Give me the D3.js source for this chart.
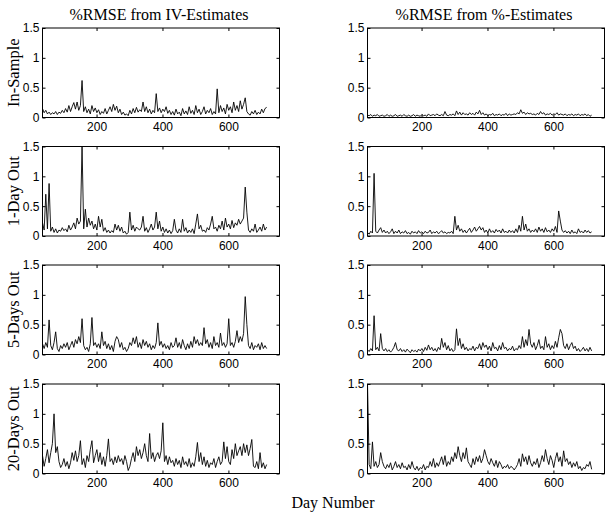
<!DOCTYPE html>
<html>
<head>
<meta charset="utf-8">
<script src="https://cdn.jsdelivr.net/npm/d3@7"></script>
<style>
  body { margin: 0; background: #fff; }
</style>
</head>
<body>
<div id="chart"></div>
<script>
// --- Data ---
const dayStart = 36, dayStep = 5;
const colTitles = ["%RMSE from IV-Estimates", "%RMSE from %-Estimates"];
const rowLabels = ["In-Sample", "1-Day Out", "5-Days Out", "20-Days Out"];
const xTicks = [200, 400, 600];
const yTicks = [0, 0.5, 1, 1.5];

const inSampleIV = [
  .15,.08,.12,.06,.09,.05,.08,.06,.10,.05,
  .09,.07,.12,.08,.15,.09,.20,.10,.18,.25,
  .14,.26,.12,.20,.62,.10,.18,.08,.14,.06,
  .20,.10,.16,.08,.13,.05,.10,.07,.15,.06,
  .12,.18,.10,.22,.12,.19,.08,.14,.05,.09,
  .04,.06,.03,.12,.06,.15,.08,.17,.09,.13,
  .10,.26,.10,.18,.08,.14,.06,.12,.08,.40,
  .10,.16,.08,.14,.10,.18,.07,.12,.05,.10,
  .04,.14,.06,.09,.03,.15,.06,.11,.05,.18,
  .07,.12,.05,.20,.08,.14,.05,.10,.18,.06,
  .12,.08,.15,.05,.10,.06,.48,.08,.20,.10,
  .16,.06,.22,.12,.18,.08,.26,.12,.20,.10,
  .28,.14,.22,.33,.10,.06,.04,.10,.06,.12,
  .05,.09,.06,.14,.08,.15,.17
];
const inSamplePct = [
  .04,.03,.05,.02,.04,.03,.05,.02,.03,.04,
  .02,.03,.05,.02,.04,.02,.03,.05,.02,.03,
  .04,.02,.05,.03,.02,.04,.02,.03,.05,.02,
  .04,.03,.02,.05,.03,.04,.02,.06,.03,.04,
  .05,.03,.06,.04,.03,.05,.03,.10,.04,.03,
  .05,.04,.06,.03,.11,.05,.09,.04,.08,.05,
  .06,.04,.08,.05,.07,.04,.09,.06,.12,.05,
  .08,.04,.06,.03,.05,.04,.07,.03,.05,.04,
  .06,.03,.05,.04,.07,.03,.06,.04,.05,.06,
  .05,.08,.06,.13,.07,.09,.05,.08,.06,.07,
  .05,.06,.04,.07,.05,.10,.06,.08,.04,.06,
  .05,.07,.04,.06,.05,.08,.04,.06,.05,.04,
  .06,.03,.05,.04,.06,.03,.05,.04,.06,.03,
  .05,.04,.06,.03,.05,.02,.04
];
const oneDayIV = [
  .22,.10,.70,.12,.88,.08,.15,.06,.12,.05,
  .10,.08,.14,.09,.12,.07,.18,.10,.15,.22,
  .12,.30,.20,.25,1.5,.12,.45,.15,.30,.18,
  .25,.12,.20,.10,.33,.15,.28,.08,.14,.06,
  .10,.05,.09,.06,.20,.10,.18,.08,.15,.05,
  .08,.03,.06,.40,.10,.18,.08,.15,.12,.10,
  .15,.33,.08,.14,.06,.12,.20,.10,.15,.40,
  .12,.25,.08,.15,.06,.12,.05,.10,.04,.09,
  .28,.10,.05,.12,.06,.28,.08,.14,.05,.10,
  .06,.12,.04,.20,.37,.12,.18,.08,.10,.06,
  .14,.10,.20,.33,.12,.15,.08,.18,.12,.25,
  .10,.30,.15,.20,.12,.26,.14,.22,.18,.28,
  .20,.25,.30,.82,.40,.10,.06,.12,.08,.20,
  .06,.10,.15,.08,.20,.10,.15
];
const oneDayPct = [
  .06,.03,.08,.05,1.05,.08,.05,.10,.14,.06,
  .10,.05,.08,.04,.07,.12,.04,.08,.05,.10,
  .04,.07,.05,.09,.04,.06,.03,.08,.05,.07,
  .04,.09,.05,.07,.04,.08,.05,.06,.10,.04,
  .07,.05,.08,.04,.06,.09,.05,.07,.04,.06,
  .05,.08,.04,.33,.10,.18,.08,.12,.06,.10,
  .05,.09,.13,.06,.10,.15,.08,.12,.16,.10,
  .14,.06,.10,.05,.12,.06,.09,.05,.11,.07,
  .10,.05,.12,.06,.08,.05,.10,.06,.09,.05,
  .12,.06,.18,.08,.33,.10,.20,.08,.12,.06,
  .10,.07,.12,.06,.15,.08,.12,.06,.14,.07,
  .10,.06,.12,.08,.16,.06,.42,.25,.10,.06,
  .09,.05,.08,.04,.10,.05,.07,.04,.12,.06,
  .08,.05,.10,.06,.09,.05,.07
];
const fiveDayIV = [
  .18,.10,.20,.12,.58,.15,.08,.20,.38,.10,
  .05,.15,.10,.18,.12,.20,.08,.15,.22,.12,
  .25,.18,.30,.20,.60,.15,.08,.12,.05,.18,
  .62,.15,.20,.12,.18,.10,.38,.15,.22,.10,
  .18,.08,.15,.05,.22,.30,.25,.12,.20,.08,
  .12,.05,.10,.20,.15,.28,.18,.30,.12,.20,
  .10,.25,.15,.22,.12,.18,.08,.15,.10,.20,
  .53,.15,.22,.12,.18,.10,.15,.08,.20,.12,
  .15,.28,.12,.20,.10,.25,.15,.08,.18,.10,
  .22,.12,.30,.18,.25,.15,.20,.15,.45,.18,
  .25,.12,.20,.10,.30,.15,.20,.12,.36,.15,
  .20,.12,.18,.60,.15,.20,.12,.22,.40,.20,
  .30,.22,.35,.97,.50,.15,.10,.20,.08,.15,
  .12,.18,.08,.20,.10,.15,.10
];
const fiveDayPct = [
  .08,.05,.10,.06,.65,.08,.12,.06,.35,.10,
  .06,.10,.05,.08,.04,.07,.12,.20,.08,.06,
  .10,.05,.08,.04,.09,.06,.03,.08,.05,.07,
  .04,.09,.06,.10,.05,.12,.07,.16,.08,.12,
  .06,.10,.05,.12,.08,.27,.12,.20,.08,.15,
  .06,.10,.05,.08,.43,.15,.27,.10,.18,.08,
  .12,.06,.10,.08,.14,.06,.12,.10,.18,.08,
  .20,.12,.16,.08,.14,.06,.20,.10,.12,.06,
  .15,.08,.20,.10,.12,.06,.10,.08,.14,.06,
  .10,.08,.15,.10,.30,.12,.25,.15,.42,.18,
  .12,.20,.08,.15,.25,.10,.14,.08,.30,.12,
  .18,.08,.15,.10,.22,.12,.28,.42,.35,.15,
  .10,.18,.08,.15,.20,.10,.14,.06,.10,.05,
  .08,.12,.06,.10,.05,.12,.06
];
const twentyDayIV = [
  .30,.12,.25,.40,.18,.35,.50,1.0,.35,.45,
  .20,.10,.15,.25,.12,.20,.08,.18,.35,.22,
  .38,.20,.30,.55,.15,.25,.10,.30,.20,.40,
  .55,.18,.30,.40,.20,.35,.15,.28,.12,.30,
  .58,.20,.25,.15,.28,.18,.30,.20,.25,.15,
  .30,.20,.05,.12,.25,.35,.20,.45,.30,.40,
  .25,.35,.50,.30,.20,.67,.25,.35,.20,.30,
  .35,.25,.38,.85,.20,.30,.15,.28,.18,.22,
  .12,.25,.15,.22,.10,.28,.15,.20,.12,.25,
  .10,.18,.12,.28,.52,.20,.35,.15,.28,.12,
  .22,.10,.18,.15,.25,.10,.20,.28,.15,.20,
  .53,.25,.45,.20,.15,.40,.25,.50,.30,.38,
  .45,.30,.50,.35,.48,.30,.42,.57,.12,.10,
  .20,.08,.35,.10,.18,.08,.15
];
const twentyDayPct = [
  1.5,.15,.08,.53,.12,.20,.10,.15,.35,.20,
  .12,.08,.15,.10,.18,.06,.12,.20,.10,.15,
  .08,.18,.10,.12,.06,.15,.08,.20,.10,.06,
  .12,.05,.10,.08,.15,.06,.12,.10,.20,.12,
  .25,.10,.18,.12,.20,.28,.15,.30,.12,.20,
  .15,.28,.20,.35,.25,.45,.30,.20,.35,.25,
  .43,.20,.15,.10,.25,.15,.28,.20,.30,.18,
  .25,.40,.30,.20,.15,.25,.18,.12,.22,.10,
  .20,.15,.08,.12,.10,.15,.08,.12,.10,.06,
  .10,.15,.25,.12,.33,.20,.28,.15,.30,.18,
  .12,.20,.15,.25,.10,.18,.30,.20,.40,.25,
  .15,.30,.22,.10,.25,.35,.20,.28,.12,.38,
  .20,.25,.15,.20,.10,.18,.12,.20,.08,.12,
  .05,.10,.08,.15,.12,.20,.07
];

const grid = [
  [inSampleIV, inSamplePct],
  [oneDayIV, oneDayPct],
  [fiveDayIV, fiveDayPct],
  [twentyDayIV, twentyDayPct]
];

// --- Layout ---
const width = 612, height = 514;
const colLeft = [42.5, 367.5];
const plotW = 237;
const rowTop = [28, 146.5, 265, 384];
const plotH = 89.5;

const svg = d3.select("#chart").append("svg")
  .attr("width", width)
  .attr("height", height);

const x = d3.scaleLinear().domain([36, 755]).range([0, plotW]);
const y = d3.scaleLinear().domain([0, 1.5]).range([plotH, 0]);

svg.append("defs").append("clipPath")
  .attr("id", "plot-clip")
  .append("rect")
  .attr("width", plotW)
  .attr("height", plotH);

const line = d3.line()
  .x((d, i) => x(dayStart + i * dayStep))
  .y(d => y(d));

const tickFont = "'Liberation Sans', Arial, sans-serif";
const serifFont = "'Liberation Serif', 'Times New Roman', serif";

grid.forEach((row, r) => {
  row.forEach((series, c) => {
    const g = svg.append("g")
      .attr("transform", `translate(${colLeft[c]},${rowTop[r]})`);

    g.append("path")
      .datum(series)
      .attr("clip-path", "url(#plot-clip)")
      .attr("fill", "none")
      .attr("stroke", "#000")
      .attr("stroke-width", 0.9)
      .attr("stroke-linejoin", "round")
      .attr("d", line);

    // inward ticks, matlab style
    const bottom = g.append("g")
      .attr("transform", `translate(0,${plotH})`)
      .call(d3.axisBottom(x).tickValues(xTicks).tickSizeInner(-3).tickSizeOuter(0).tickPadding(5));
    const top = g.append("g")
      .call(d3.axisTop(x).tickValues(xTicks).tickSizeInner(-3).tickSizeOuter(0).tickFormat(""));
    const left = g.append("g")
      .call(d3.axisLeft(y).tickValues(yTicks).tickSizeInner(-3).tickSizeOuter(0).tickPadding(3).tickFormat(d => d));
    const right = g.append("g")
      .attr("transform", `translate(${plotW},0)`)
      .call(d3.axisRight(y).tickValues(yTicks).tickSizeInner(-3).tickSizeOuter(0).tickFormat(""));

    [bottom, top, left, right].forEach(a => {
      a.select(".domain").remove();
      a.selectAll("text")
        .attr("fill", "#000")
        .style("font-family", tickFont)
        .style("font-size", "12px");
      a.selectAll("line").attr("stroke", "#000");
    });

    g.append("rect")
      .attr("width", plotW)
      .attr("height", plotH)
      .attr("fill", "none")
      .attr("stroke", "#000")
      .attr("stroke-width", 1);
  });
});

// --- Titles ---
colTitles.forEach((t, c) => {
  svg.append("text")
    .attr("x", colLeft[c] + plotW / 2 - 2)
    .attr("y", 20)
    .attr("text-anchor", "middle")
    .style("font-family", serifFont)
    .style("font-size", "16px")
    .text(t);
});

rowLabels.forEach((t, r) => {
  svg.append("text")
    .attr("transform", `translate(19,${rowTop[r] + plotH / 2}) rotate(-90)`)
    .attr("text-anchor", "middle")
    .style("font-family", serifFont)
    .style("font-size", "16.5px")
    .text(t);
});

svg.append("text")
  .attr("x", 333)
  .attr("y", 508)
  .attr("text-anchor", "middle")
  .style("font-family", serifFont)
  .style("font-size", "16px")
  .text("Day Number");
</script>
</body>
</html>
